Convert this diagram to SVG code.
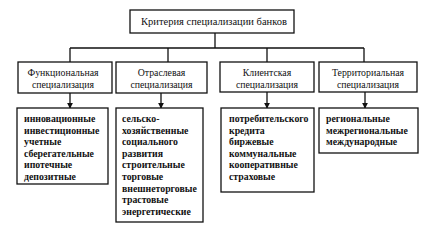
<svg xmlns="http://www.w3.org/2000/svg" width="437" height="236" viewBox="0 0 437 236">
<style>
.box{fill:#fff;stroke:#111;stroke-width:1.3}
.ln{fill:none;stroke:#111;stroke-width:1.3}
text{font-family:'Liberation Serif','DejaVu Serif',serif;font-size:10.5px;fill:#111}
.h{text-anchor:middle;font-size:9.8px}
.it{font-weight:bold;font-size:9.8px}
</style>
<defs>
<marker id="ar" viewBox="0 0 8 8" refX="7" refY="4" markerWidth="6" markerHeight="6" orient="auto" markerUnits="userSpaceOnUse">
<path d="M0,0 L8,4 L0,8 Z" fill="#111"/>
</marker>
</defs>
<rect width="437" height="236" fill="#fff"/>
<g id="connectors">
<path class="ln" d="M215,33 V48 M70,48 H364 M70,48 V62 M168,48 V62 M267,48 V62 M364,48 V62"/>
<path class="ln" d="M70,93 V108" marker-end="url(#ar)"/>
<path class="ln" d="M161,93 V108" marker-end="url(#ar)"/>
<path class="ln" d="M267,92 V108" marker-end="url(#ar)"/>
<path class="ln" d="M365,92 V108" marker-end="url(#ar)"/>
</g>
<g id="root">
<rect class="box" x="130" y="10" width="164" height="23"/>
<text x="214" y="25" text-anchor="middle">Критерия специализации банков</text>
</g>
<g id="func">
<rect class="box" x="18" y="62" width="94" height="31"/>
<text class="h" x="63" y="76">Функциональная</text>
<text class="h" x="63" y="88">специализация</text>
</g>
<g id="otr">
<rect class="box" x="116" y="62" width="91" height="31"/>
<text class="h" x="161.5" y="76">Отраслевая</text>
<text class="h" x="161.5" y="88">специализация</text>
</g>
<g id="client">
<rect class="box" x="220" y="62" width="94" height="30"/>
<text class="h" x="267" y="76">Клиентская</text>
<text class="h" x="267" y="88">специализация</text>
</g>
<g id="terr">
<rect class="box" x="319" y="62" width="98" height="30"/>
<text class="h" x="368" y="76">Территориальная</text>
<text class="h" x="368" y="88">специализация</text>
</g>
<g id="func-list">
<rect class="box" x="17" y="108" width="91" height="76"/>
<text class="it" x="24" y="122">инновационные</text>
<text class="it" x="24" y="133.6">инвестиционные</text>
<text class="it" x="24" y="145.2">учетные</text>
<text class="it" x="24" y="156.8">сберегательные</text>
<text class="it" x="24" y="168.4">ипотечные</text>
<text class="it" x="24" y="180">депозитные</text>
</g>
<g id="otr-list">
<rect class="box" x="116" y="108" width="87" height="114"/>
<text class="it" x="122" y="122">сельско-</text>
<text class="it" x="122" y="133.6">хозяйственные</text>
<text class="it" x="122" y="145.2">социального</text>
<text class="it" x="122" y="156.8">развития</text>
<text class="it" x="122" y="168.4">строительные</text>
<text class="it" x="122" y="180">торговые</text>
<text class="it" x="122" y="191.6">внешнеторговые</text>
<text class="it" x="122" y="203.2">трастовые</text>
<text class="it" x="122" y="214.8">энергетические</text>
</g>
<g id="client-list">
<rect class="box" x="221" y="108" width="93" height="84"/>
<text class="it" x="229" y="122">потребительского</text>
<text class="it" x="229" y="133.6">кредита</text>
<text class="it" x="229" y="145.2">биржевые</text>
<text class="it" x="229" y="156.8">коммунальные</text>
<text class="it" x="229" y="168.4">кооперативные</text>
<text class="it" x="229" y="180">страховые</text>
</g>
<g id="terr-list">
<rect class="box" x="319" y="108" width="99" height="45"/>
<text class="it" x="326" y="122">региональные</text>
<text class="it" x="326" y="133.6">межрегиональные</text>
<text class="it" x="326" y="145.2">международные</text>
</g>
</svg>
